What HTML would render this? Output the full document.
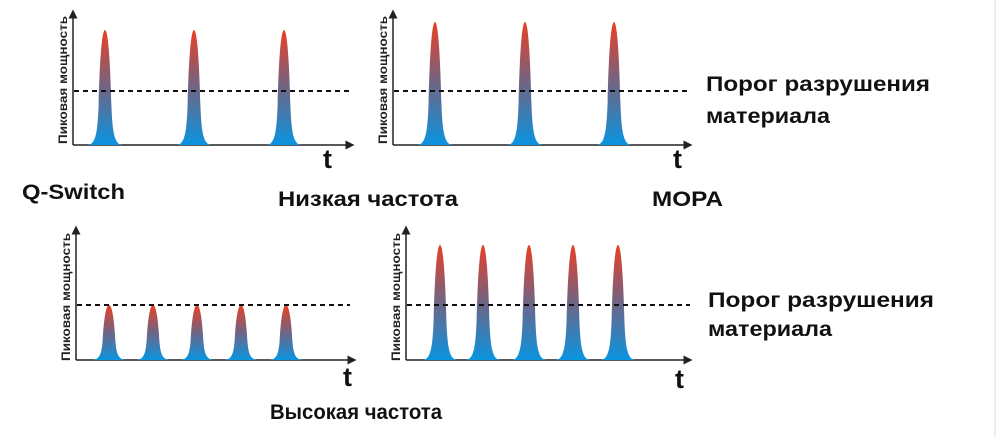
<!DOCTYPE html>
<html><head><meta charset="utf-8"><style>
html,body{margin:0;padding:0;background:#fff;width:1002px;height:437px;overflow:hidden}
svg{display:block;font-family:"Liberation Sans",sans-serif}
.lab{font-size:11.5px;font-weight:bold;fill:#222}
.big{font-size:21px;font-weight:bold;fill:#111}
.t{font-size:27px;font-weight:bold;fill:#111}
</style></head><body>
<svg width="1002" height="437" viewBox="0 0 1002 437">
<defs>
<linearGradient id="g" x1="0" y1="0" x2="0" y2="1">
<stop offset="0" stop-color="#ea3f24"/>
<stop offset="0.5" stop-color="#6f6585"/>
<stop offset="1" stop-color="#0a94e0"/>
</linearGradient>
<symbol id="p" viewBox="0 0 32 100" preserveAspectRatio="none">
<path d="M0,100 C7,99 9,90 10,65 C11,28 13,0 16,0 C19,0 21,28 22,65 C23,90 25,99 32,100 Z" fill="url(#g)"/>
</symbol>
<marker id="a" markerWidth="6" markerHeight="6" refX="3" refY="3" orient="auto"><path d="M0,0 L6,3 L0,6 Z" fill="#222"/></marker>
</defs>
<line x1="995" y1="0" x2="995" y2="437" stroke="#ddd"/>

<!-- panel 1 -->
<line x1="73" y1="145" x2="73" y2="14" stroke="#222" stroke-width="1.5" marker-end="url(#a)"/>
<line x1="73" y1="145" x2="350" y2="145" stroke="#222" stroke-width="1.5" marker-end="url(#a)"/>
<use href="#p" x="88" y="30" width="34" height="115"/>
<use href="#p" x="177" y="30" width="34" height="115"/>
<use href="#p" x="267" y="30" width="34" height="115"/>
<line x1="74" y1="91" x2="350" y2="91" stroke="#111" stroke-width="2" stroke-dasharray="5,4"/>
<text class="lab" transform="translate(67,80) rotate(-90)" text-anchor="middle" textLength="128" lengthAdjust="spacingAndGlyphs">Пиковая мощность</text>
<text class="t" x="323" y="168">t</text>

<!-- panel 2 -->
<line x1="393" y1="145" x2="393" y2="14" stroke="#222" stroke-width="1.5" marker-end="url(#a)"/>
<line x1="393" y1="145" x2="688" y2="145" stroke="#222" stroke-width="1.5" marker-end="url(#a)"/>
<use href="#p" x="418" y="22" width="34" height="123"/>
<use href="#p" x="508" y="22" width="34" height="123"/>
<use href="#p" x="597" y="22" width="34" height="123"/>
<line x1="394" y1="91" x2="688" y2="91" stroke="#111" stroke-width="2" stroke-dasharray="5,4"/>
<text class="lab" transform="translate(387,80) rotate(-90)" text-anchor="middle" textLength="128" lengthAdjust="spacingAndGlyphs">Пиковая мощность</text>
<text class="t" x="673" y="168">t</text>
<text class="big" x="706" y="91" textLength="224" lengthAdjust="spacingAndGlyphs">Порог разрушения</text>
<text class="big" x="706" y="123" textLength="124" lengthAdjust="spacingAndGlyphs">материала</text>

<text class="big" x="22" y="199" textLength="103" lengthAdjust="spacingAndGlyphs">Q-Switch</text>
<text class="big" x="278" y="206" textLength="180" lengthAdjust="spacingAndGlyphs">Низкая частота</text>
<text class="big" x="652" y="206" textLength="71" lengthAdjust="spacingAndGlyphs">MOPA</text>

<!-- panel 3 -->
<line x1="76" y1="360" x2="76" y2="230" stroke="#222" stroke-width="1.5" marker-end="url(#a)"/>
<line x1="76" y1="360" x2="352" y2="360" stroke="#222" stroke-width="1.5" marker-end="url(#a)"/>
<use href="#p" x="92" y="305" width="34" height="55"/>
<use href="#p" x="136" y="305" width="34" height="55"/>
<use href="#p" x="180" y="305" width="34" height="55"/>
<use href="#p" x="224" y="305" width="34" height="55"/>
<use href="#p" x="269" y="305" width="34" height="55"/>
<line x1="77" y1="305" x2="350" y2="305" stroke="#111" stroke-width="2" stroke-dasharray="5,4"/>
<text class="lab" transform="translate(70,297) rotate(-90)" text-anchor="middle" textLength="128" lengthAdjust="spacingAndGlyphs">Пиковая мощность</text>
<text class="t" x="343" y="386">t</text>

<!-- panel 4 -->
<line x1="406" y1="360" x2="406" y2="230" stroke="#222" stroke-width="1.5" marker-end="url(#a)"/>
<line x1="406" y1="360" x2="688" y2="360" stroke="#222" stroke-width="1.5" marker-end="url(#a)"/>
<use href="#p" x="423" y="245" width="34" height="115"/>
<use href="#p" x="466" y="245" width="34" height="115"/>
<use href="#p" x="512" y="245" width="34" height="115"/>
<use href="#p" x="556" y="245" width="34" height="115"/>
<use href="#p" x="601" y="245" width="34" height="115"/>
<line x1="407" y1="305" x2="690" y2="305" stroke="#111" stroke-width="2" stroke-dasharray="5,4"/>
<text class="lab" transform="translate(400,297) rotate(-90)" text-anchor="middle" textLength="128" lengthAdjust="spacingAndGlyphs">Пиковая мощность</text>
<text class="t" x="675" y="388">t</text>
<text class="big" x="708" y="307" textLength="226" lengthAdjust="spacingAndGlyphs">Порог разрушения</text>
<text class="big" x="708" y="336" textLength="124" lengthAdjust="spacingAndGlyphs">материала</text>

<text class="big" x="270" y="419" textLength="172" lengthAdjust="spacingAndGlyphs">Высокая частота</text>
</svg>
</body></html>
